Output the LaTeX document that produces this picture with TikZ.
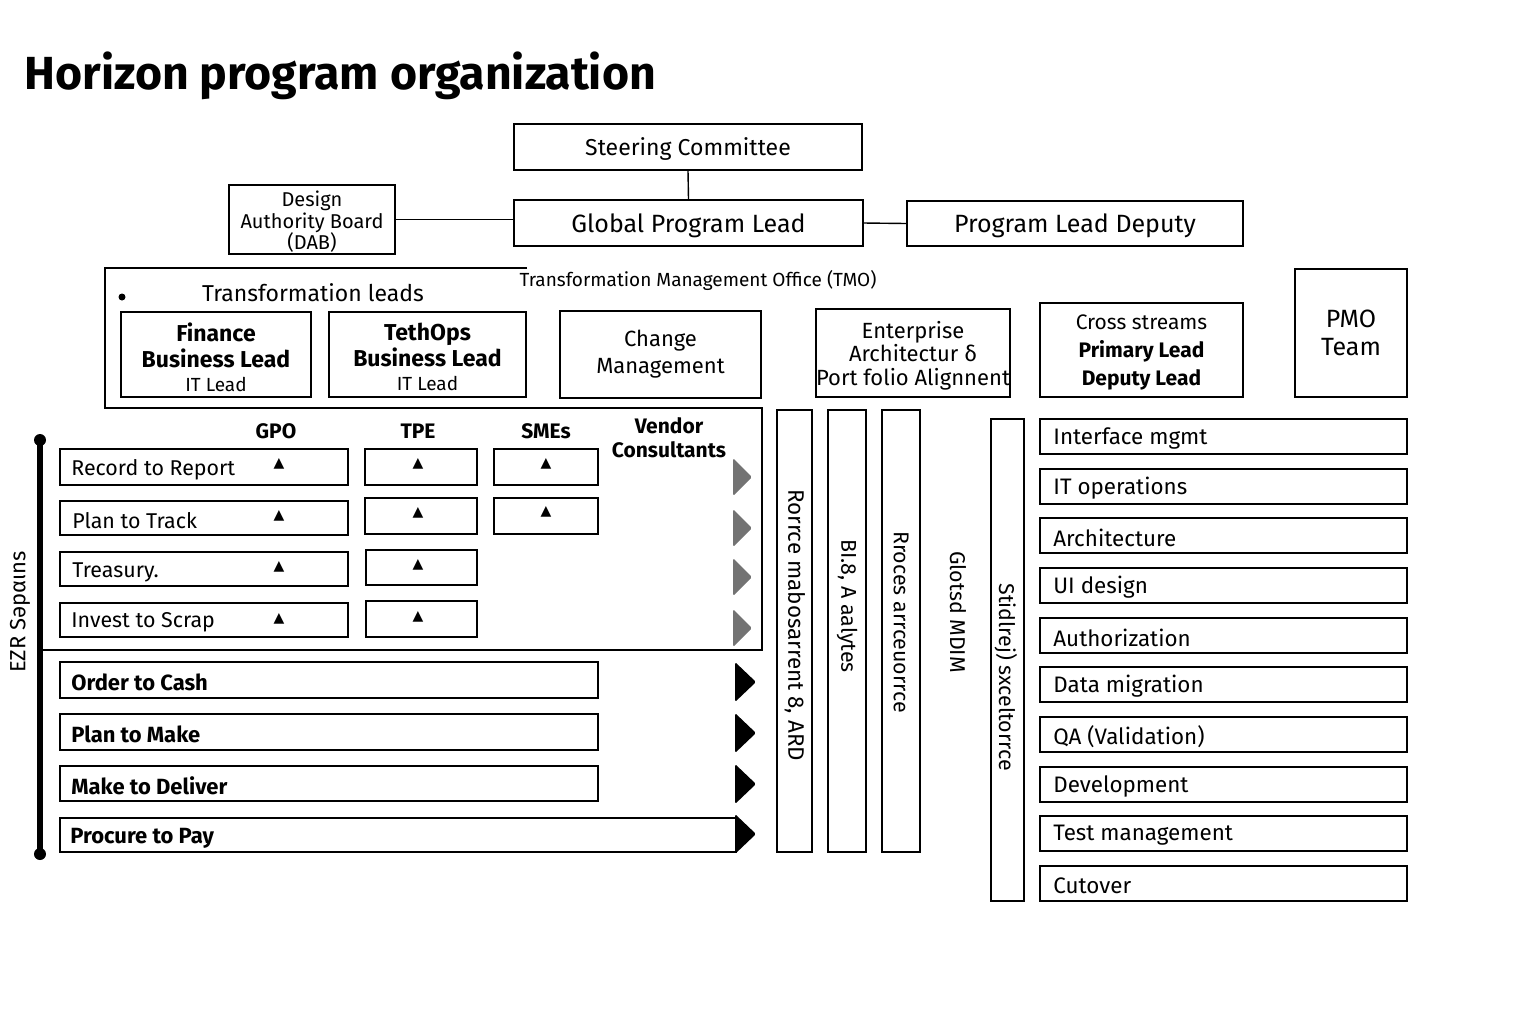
\documentclass[tikz,border=0pt]{standalone}
\usepackage{fontspec}
\setmainfont{Fira Sans}
\newfontfamily\symfont{DejaVu Sans}
\newcommand\pbox[7][]{\node[box,minimum width={(#5-#3)*0.5pt},minimum height={(#6-#4)*0.5pt}] (#2) at ({(#3+#5)/2},{(#4+#6)/2}) {};
  \node[inner sep=0pt,align=center,yshift=-1.2pt,#1] (#2-t) at (#2.center) {#7};}
\newcommand\tri{{\symfont\fontsize{7}{8}\selectfont ▲}}
\begin{document}
\begin{tikzpicture}[x=0.5pt,y=-0.5pt,
  box/.style={draw=black,line width=0.75pt,inner sep=0pt,fill=white},
  conn/.style={line width=0.7pt},
  f9/.style={font=\fontsize{9.5}{11}\selectfont},
  rowtxt/.style={anchor=west,inner sep=0pt,font=\fontsize{10.7}{12}\selectfont},
  rowbold/.style={anchor=west,inner sep=0pt,font=\fontsize{11}{12}\selectfont\bfseries},
  head/.style={inner sep=0pt,align=center,font=\fontsize{10.5}{12}\selectfont\bfseries},
  vtxt/.style={inner sep=0pt,rotate=-90,font=\fontsize{10.7}{12}\selectfont},
  lead/.style={font=\fontsize{11.5}{13}\selectfont\bfseries},
  grtri/.style={fill=black!55,rounded corners=0.8pt},
  bktri/.style={fill=black,rounded corners=0.8pt}]
\useasboundingbox (0,0) rectangle (1536,1024);

% title
\node[anchor=base west,inner sep=0pt,font=\fontsize{23.2}{27}\selectfont\bfseries] (title) at (24,89) {Horizon program organization};

% top hierarchy
\pbox[font=\fontsize{11.5}{13}\selectfont]{sc}{514}{124}{862}{170}{Steering Committee}
\pbox[font=\fontsize{12.5}{14}\selectfont]{gpl}{514}{200}{863}{246}{Global Program Lead}
\pbox[font=\fontsize{10}{10.8}\selectfont]{dab}{229}{185}{395}{254}{Design\\Authority Board\\(DAB)}
\pbox[font=\fontsize{12.5}{14}\selectfont]{pld}{907}{201}{1243}{246}{Program Lead Deputy}
\draw[conn] (sc.south) -- (gpl.north);
\draw[conn] (dab.east) -- (dab.east -| gpl.west);
\draw[conn] (gpl.east) -- (pld.west);

% TMO frame
\draw[line width=0.75pt] (527,268) -- (105,268) -- (105,408) -- (762,408) -- (762,650) -- (40,650);
\node[f9,inner sep=0pt] (tmo) at (698,280) {Transformation Management Office (TMO)};
\fill (122,297) circle (3.5);
\node[inner sep=0pt,font=\fontsize{11.5}{13}\selectfont] (tl) at (313,293) {Transformation leads};

\pbox[lead]{fin}{121}{312}{311}{397}{Finance\\Business Lead\\[-1pt]\fontsize{9.5}{11}\selectfont\mdseries IT Lead}
\pbox[lead]{teth}{329}{312}{526}{397}{TethOps\\Business Lead\\[-1pt]\fontsize{9.5}{11}\selectfont\mdseries IT Lead}
\pbox[font=\fontsize{11}{13.5}\selectfont,yshift=1.2pt]{chg}{560}{311}{761}{398}{Change\\Management}
\pbox[font=\fontsize{11}{11.8}\selectfont]{ent}{816}{309}{1010}{397}{Enterprise\\Architectur δ\\Port folio Alignnent}
\pbox[font=\fontsize{10.5}{14}\selectfont]{cross}{1040}{303}{1243}{397}{Cross streams\\\bfseries Primary Lead\\\bfseries Deputy Lead}
\pbox[font=\fontsize{12.5}{14}\selectfont,yshift=1.5pt]{pmo}{1295}{269}{1407}{397}{PMO\\Team}

% process section
\draw[line width=2.6pt] (40,440) -- (40,854);
\fill (40,440) circle (6);
\fill (40,854) circle (6);
\node[inner sep=0pt,rotate=90,font=\fontsize{11}{12}\selectfont] (ezr) at (20,612) {EZR Səpαιns};

\node[head] (hgpo) at (276,431) {GPO};
\node[head] (htpe) at (418,431) {TPE};
\node[head] (hsme) at (546,431) {SMEs};
\node[head,font=\fontsize{10.5}{12}\selectfont\bfseries] (hven) at (669,438) {Vendor\\Consultants};

% finance rows
\pbox{r1}{60}{449}{348}{485}{}
\pbox{r2}{60}{501}{348}{535}{}
\pbox{r3}{60}{552}{348}{586}{}
\pbox{r4}{60}{603}{348}{637}{}
\node[rowtxt] (r1t) at (71,470) {Record to Report};
\node[rowtxt] (r2t) at (72,521) {Plan to Track};
\node[rowtxt] (r3t) at (72,572) {Treasury.};
\node[rowtxt] (r4t) at (71,622) {Invest to Scrap};
\node[inner sep=0pt] (g1) at (279,464) {\tri};
\node[inner sep=0pt] (g2) at (279,516) {\tri};
\node[inner sep=0pt] (g3) at (279,567) {\tri};
\node[inner sep=0pt] (g4) at (279,619) {\tri};

\pbox{t1}{365}{449}{477}{485}{}
\pbox{t2}{365}{498}{477}{534}{}
\pbox{t3}{366}{550}{477}{585}{}
\pbox{t4}{366}{601}{477}{637}{}
\node[inner sep=0pt] (t1a) at (418,464) {\tri};
\node[inner sep=0pt] (t2a) at (418,513) {\tri};
\node[inner sep=0pt] (t3a) at (418,565) {\tri};
\node[inner sep=0pt] (t4a) at (418,617) {\tri};

\pbox{s1}{494}{449}{598}{485}{}
\pbox{s2}{494}{498}{598}{534}{}
\node[inner sep=0pt] (s1a) at (546,464) {\tri};
\node[inner sep=0pt] (s2a) at (546,512) {\tri};

\foreach \y in {477,528,577,628}
  \fill[grtri] (733,\y-19) -- (752,\y) -- (733,\y+19) -- cycle;

% operations rows
\pbox{o1}{60}{662}{598}{698}{}
\pbox{o2}{60}{714}{598}{750}{}
\pbox{o3}{60}{766}{598}{801}{}
\pbox{o4}{60}{818}{736}{852}{}
\node[rowbold] (o1t) at (71,682) {Order to Cash};
\node[rowbold] (o2t) at (71,734) {Plan to Make};
\node[rowbold] (o3t) at (71,786) {Make to Deliver};
\node[rowbold] (o4t) at (70,838) {Procure to Pay};
\foreach \y in {682,733,784,834}
  \fill[bktri] (735,\y-20) -- (756,\y) -- (735,\y+20) -- cycle;

% vertical columns
\pbox{c1}{777}{410}{812}{852}{}
\pbox{c2}{828}{410}{866}{852}{}
\pbox{c3}{882}{410}{920}{852}{}
\pbox{c4}{991}{419}{1024}{901}{}
\node[vtxt,font=\fontsize{11.2}{12}\selectfont] (c1t) at (795,625) {Rorrce mabosarrent 8, ARD};
\node[vtxt] (c2t) at (847,606) {BI.8, A aalytes};
\node[vtxt] (c3t) at (901,622) {Rroces arrceuorrce};
\node[vtxt] (mdm) at (958,612) {Glotsd MDIM};
\node[vtxt] (c4t) at (1006,677) {Stidlrej) sxceltorrce};

% cross-stream list
\foreach \n/\y/\t in {1/419/Interface mgmt,2/469/IT operations,3/518/Architecture,4/568/UI design,5/618/Authorization,6/667/Data migration,7/717/QA (Validation),8/767/Development,9/816/Test management,10/866/Cutover}{
  \pbox{x\n}{1040}{\y}{1407}{\y+35}{}
  \node[anchor=west,inner sep=0pt,font=\fontsize{11.2}{13}\selectfont] (x\n t) at (1053,\y+19.5) {\t};
}
\end{tikzpicture}
\end{document}
